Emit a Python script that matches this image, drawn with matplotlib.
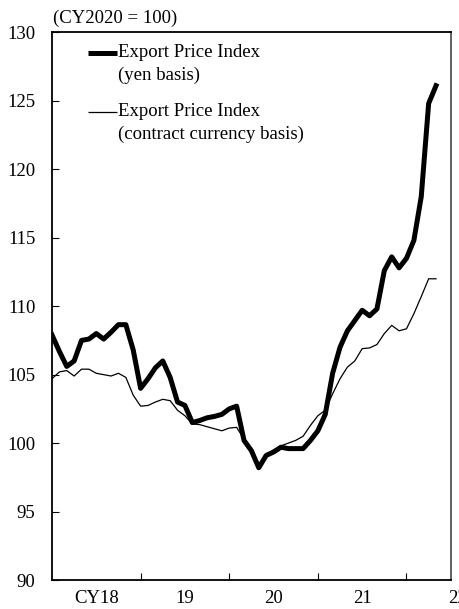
import matplotlib
matplotlib.use("Agg")
import matplotlib.pyplot as plt
import numpy as np

plt.rcParams['font.family'] = ['Liberation Serif', 'Noto Sans CJK JP']

# monthly, Jan 2018 - May 2022 (CY2020 = 100)
yen_basis = [107.9, 106.7, 105.6, 106.0, 107.5, 107.6, 108.0, 107.6, 108.1, 108.65,
             108.65, 106.8, 104.0, 104.7, 105.5, 106.0, 104.8, 103.0, 102.75, 101.5,
             101.65, 101.85, 101.95, 102.1, 102.5, 102.7, 100.2, 99.45, 98.2, 99.1,
             99.35, 99.7, 99.6, 99.6, 99.6, 100.2, 100.9, 102.1, 105.1, 107.0,
             108.2, 108.95, 109.7, 109.3, 109.8, 112.6, 113.6, 112.8, 113.5, 114.8,
             118.0, 124.8, 126.1]
contract_basis = [104.7, 105.2, 105.3, 104.9, 105.4, 105.4, 105.1, 105.0, 104.9, 105.1,
                  104.8, 103.5, 102.7, 102.75, 103.0, 103.2, 103.1, 102.4, 102.0, 101.4,
                  101.35, 101.2, 101.05, 100.9, 101.1, 101.15, 100.3, 99.5, 98.3, 99.1,
                  99.5, 99.8, 100.0, 100.2, 100.5, 101.3, 102.0, 102.4, 103.6, 104.7,
                  105.55, 106.0, 106.9, 106.95, 107.2, 108.0, 108.6, 108.2, 108.35, 109.45,
                  110.7, 112.0, 112.0]
year_labels = ['CY18', '19', '20', '21', '22']
label_pos = [6, 18, 30, 42, 54.9]
label_lines = [['Export Price Index', '(yen basis)'],
               ['Export Price Index', '(contract currency basis)']]

fig = plt.figure(figsize=(4.6, 6.09), dpi=100)
ax = fig.add_axes([0.113, 0.0475, 0.867, 0.8995])

months = np.arange(len(yen_basis))
ax.plot(months, yen_basis, color='black', lw=3.6)
ax.plot(months, contract_basis, color='black', lw=0.9)

ax.set_xlim(0, 54)
ax.set_ylim(90, 130)
ax.set_yticks(np.arange(90, 131, 5))
ax.set_xticks([12, 24, 36, 48])
ax.set_xticklabels([])
ax.tick_params(axis='x', which='major', direction='in', length=5, width=0.8)
ax.tick_params(axis='y', direction='in', length=5, width=0.8, pad=12, labelsize=13.5)

# year labels sit mid-year; the last one runs past the right edge as in the original
trans = ax.get_xaxis_transform()
for xp, s in zip(label_pos, year_labels):
    ax.text(xp, -0.018, s, transform=trans, fontsize=13.5, ha='center', va='top',
            clip_on=False)

for side in ['left', 'bottom', 'top']:
    ax.spines[side].set_linewidth(1.3)
    ax.spines[side].set_color('black')
ax.spines['right'].set_linewidth(1.3)
ax.spines['right'].set_color('#555555')

fig.text(53 / 460, 1 - 18 / 609, '(CY2020 = 100)', fontsize=13.5, ha='left', va='center')

# legend, drawn by hand so the key sits on the first line of each label
key_widths = [3.6, 0.9]
key_y = [0.9627, 0.855]
line_gap = 0.042
for lw, y, lines in zip(key_widths, key_y, label_lines):
    ax.plot([0.09, 0.164], [y, y], color='black', lw=lw, transform=ax.transAxes,
            solid_capstyle='butt')
    for k, s in enumerate(lines):
        ax.text(0.1655, y - k * line_gap, s, transform=ax.transAxes, fontsize=13.5,
                ha='left', va='center')

fig.savefig('out.png', dpi=100)
